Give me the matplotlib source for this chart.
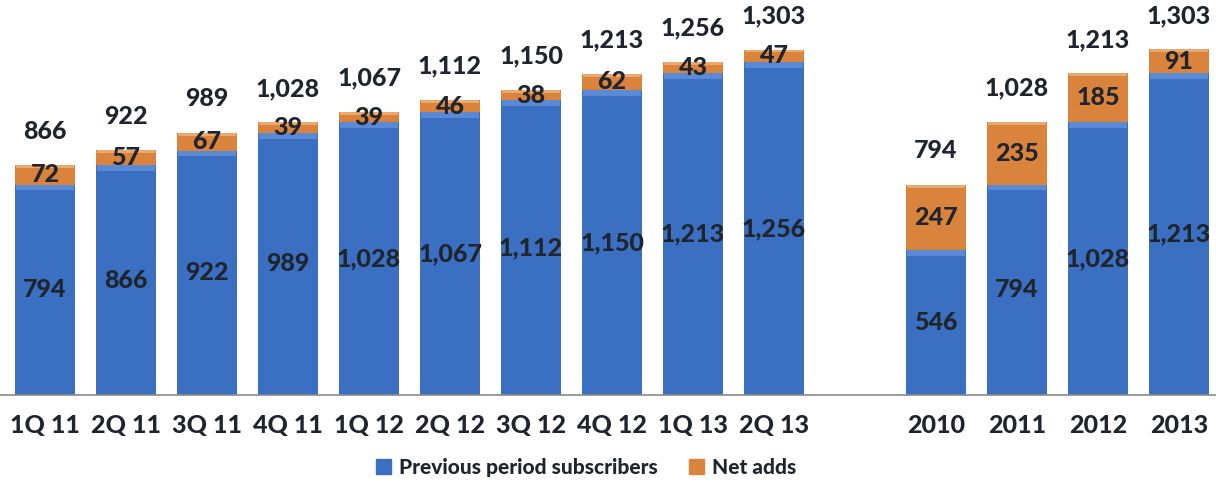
import numpy as np
import matplotlib
matplotlib.use("Agg")
import matplotlib.pyplot as plt
from matplotlib.patches import Patch

# quarterly data
quarters = ["1Q 11", "2Q 11", "3Q 11", "4Q 11", "1Q 12", "2Q 12", "3Q 12", "4Q 12", "1Q 13", "2Q 13"]
q_prev = [794, 866, 922, 989, 1028, 1067, 1112, 1150, 1213, 1256]
q_net = [72, 57, 67, 39, 39, 46, 38, 62, 43, 47]
q_total = [866, 922, 989, 1028, 1067, 1112, 1150, 1213, 1256, 1303]

# yearly data
years = ["2010", "2011", "2012", "2013"]
y_prev = [546, 794, 1028, 1213]
y_net = [247, 235, 185, 91]
y_total = [794, 1028, 1213, 1303]

BLUE = "#3a6fc2"
BLUE_HI = "#6593dc"
ORANGE = "#d9833d"
ORANGE_HI = "#eaa96e"
TXT = "#1f242d"
FONT = "Lato"
WEIGHT = "black"
FS = 18

labels = quarters + years
prev = np.array(q_prev + y_prev)
net = np.array(q_net + y_net)
total = q_total + y_total
pos = np.concatenate([np.arange(len(quarters)), np.arange(len(years)) + len(quarters) + 1])

fig = plt.figure(figsize=(12.16, 4.84), dpi=100)
ax = fig.add_axes([0, 0.1839, 1, 0.8161])

w = 0.74
bevel = 22
ax.bar(pos, prev, width=w, color=BLUE, zorder=2)
ax.bar(pos, bevel, bottom=prev - bevel, width=w * 0.96, color=BLUE_HI, alpha=0.75, zorder=3)
ax.bar(pos, net, bottom=prev, width=w, color=ORANGE, zorder=2)
ax.bar(pos, bevel * 0.5, bottom=prev + net - bevel * 0.5, width=w * 0.96, color=ORANGE_HI, zorder=3)

for x, p, n, t in zip(pos, prev, net, total):
    ax.text(x, p / 2, f"{p:,}", ha="center", va="center", fontsize=FS,
            fontweight=WEIGHT, color=TXT, family=FONT, zorder=5)
    ax.text(x, p + n / 2, f"{n:,}", ha="center", va="center", fontsize=FS,
            fontweight=WEIGHT, color=TXT, family=FONT, zorder=5)
    ax.text(x, p + n + 128, f"{t:,}", ha="center", va="center", fontsize=FS,
            fontweight=WEIGHT, color=TXT, family=FONT, zorder=5)

ax.set_xlim(-0.556, 14.457)
ax.set_ylim(0, 1490)
ax.set_xticks(pos)
ax.set_xticklabels(labels, fontsize=FS, fontweight=WEIGHT, color=TXT, family=FONT)
ax.tick_params(axis="x", length=0, pad=14)
ax.set_yticks([])
for s in ["top", "right", "left"]:
    ax.spines[s].set_visible(False)
ax.spines["bottom"].set_color("#8a8a8a")
ax.spines["bottom"].set_linewidth(1.2)

handles = [Patch(color=BLUE, label="Previous period subscribers"),
           Patch(color=ORANGE, label="Net adds")]
fig.legend(handles=handles, loc="center", bbox_to_anchor=(0.482, 0.035), ncol=2,
           frameon=False, handlelength=0.7, handleheight=0.7, handletextpad=0.4,
           columnspacing=1.5, prop={"family": FONT, "weight": WEIGHT, "size": 15})
for t in fig.legends[0].get_texts():
    t.set_color(TXT)

fig.savefig("out.png", dpi=100)
